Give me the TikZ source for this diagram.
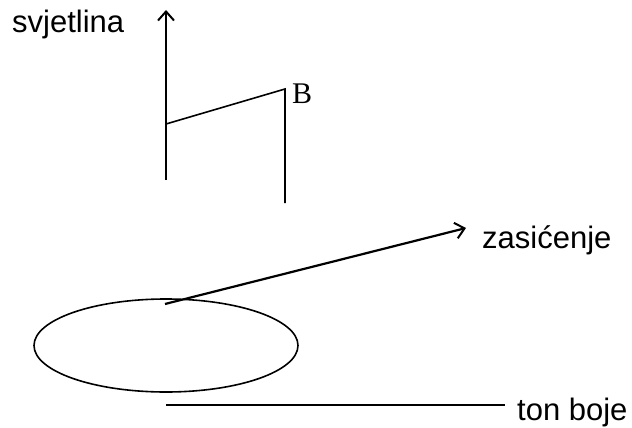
\documentclass[tikz,border=0pt]{standalone}
\usepackage{fontspec}
\setmainfont{Liberation Sans}
\newfontfamily\serifB{Liberation Serif}
\usetikzlibrary{arrows.meta}

\tikzset{
  axis/.style={line width=2.2pt, -{Straight Barb[length=9pt, width=16pt, line width=2pt]}},
  edge/.style={line width=1.6pt},
  lab/.style={font=\fontsize{31}{37}\selectfont, inner sep=0pt}
}

\begin{document}
\begin{tikzpicture}[x=1pt, y=-1pt]
  \useasboundingbox (0,0) rectangle (632,428);
  % osi
  \coordinate (L0) at (166,180);
  \coordinate (L1) at (166,10);
  \coordinate (S0) at (165,304);
  \coordinate (S1) at (466,228);
  \coordinate (H0) at (166,405);
  \coordinate (H1) at (505,405);
  \draw[axis] (L0) -- (L1);
  \draw[axis] (S0) -- (S1);
  \draw[edge] (H0) -- (H1);
  % tocka B
  \coordinate (P) at (166,124);
  \coordinate (B) at (285,89);
  \coordinate (B1) at (285,203);
  \draw[edge] (P) -- (B) -- (B1);
  \draw[edge] (166,345.5) ellipse [x radius=132, y radius=46.5];
  % oznake
  \node[lab, anchor=base west] (svj) at (12,33) {svjetlina};
  \node[lab, anchor=base west] (zas) at (482,248) {zasićenje};
  \node[lab, anchor=base west] (ton) at (517,420) {ton boje};
  \node[lab, font=\serifB\fontsize{30}{36}\selectfont, anchor=base west] (Blab) at (292,103) {B};
\end{tikzpicture}
\end{document}
